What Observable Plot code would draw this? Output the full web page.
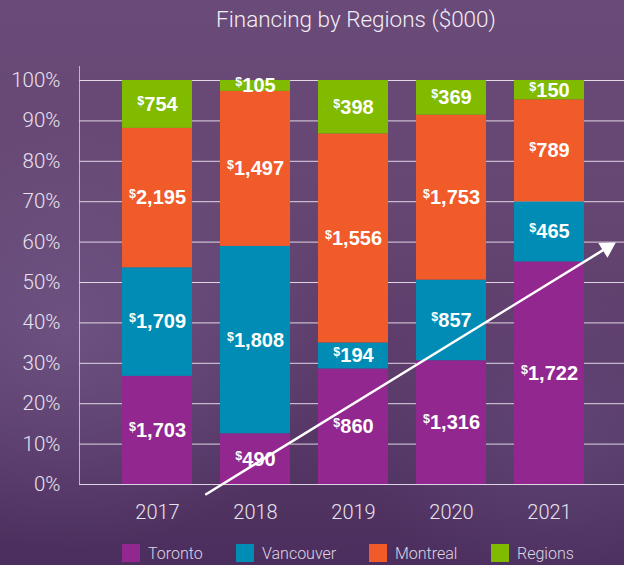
<!DOCTYPE html>
<html><head><meta charset="utf-8">
<script src="https://cdn.jsdelivr.net/npm/d3@7"></script>
<script src="https://cdn.jsdelivr.net/npm/@observablehq/plot@0.6"></script>
<style>
html,body{margin:0;padding:0;}
body{width:624px;height:565px;overflow:hidden;position:relative;
background:
 radial-gradient(ellipse 260px 220px at 70px 330px, rgba(125,105,155,0.45), rgba(0,0,0,0)),
 radial-gradient(ellipse 200px 160px at 560px 440px, rgba(110,90,140,0.35), rgba(0,0,0,0)),
 linear-gradient(180deg,#6a4a78 0%,#664672 35%,#5a3a69 70%,#4b2e5d 100%);
font-family: Roboto, "Liberation Sans", sans-serif;}
#title{height:45px;box-sizing:border-box;padding-top:6px;padding-left:88px;text-align:center;color:#f2eef5;font-size:22.5px;font-weight:300;line-height:26px;}
#chart svg{display:block;}
#legend{position:absolute;left:122px;top:544px;display:flex;align-items:center;height:18px;color:#ddd5e3;font-size:16px;font-weight:300;}
.item{display:flex;align-items:center;}
.item:nth-child(1){width:114px;}
.item:nth-child(2){width:133px;}
.item:nth-child(3){width:122px;}
.sw{width:18px;height:18px;margin-right:8px;}
</style></head><body>
<div id="title">Financing by Regions ($000)</div>
<div id="chart"></div>
<div id="legend"></div>
<script>
const years = ["2017","2018","2019","2020","2021"];
const regions = ["Toronto","Vancouver","Montreal","Regions"];
const colors = ["#92278f","#008cb4","#f15a29","#80bb00"];
const toronto = [1703,490,860,1316,1722];
const vancouver = [1709,1808,194,857,465];
const montreal = [2195,1497,1556,1753,789];
const regionsOther = [754,105,398,369,150];
const yTicks = [0,0.1,0.2,0.3,0.4,0.5,0.6,0.7,0.8,0.9,1];
const arrowData = [{x1:"2017", y1:-0.024, x2:"2021", y2:0.5725}];
const arrowHead = [{x:"2021", y:0.586}];

const series = [toronto, vancouver, montreal, regionsOther];
const table = [];
years.forEach((y,i) => regions.forEach((r,j) => table.push({year:y, region:r, value:series[j][i]})));

const fmt = d3.format(",");
const plot = Plot.plot({
  width:624, height:490, marginTop:35, marginBottom:51, marginLeft:79, marginRight:0,
  style:{background:"transparent", color:"#e8e2ee", fontFamily:"Roboto, 'Liberation Sans', sans-serif", fontSize:"20px", fontWeight:300, overflow:"visible"},
  x:{domain:years, paddingInner:0.281, paddingOuter:0.407, align:0.524, label:null},
  y:{domain:[0,1], label:null},
  color:{domain:regions, range:colors},
  marks:[
    Plot.ruleY(yTicks, {stroke:"#f0eaf4", strokeOpacity:0.88}),
    Plot.frame({anchor:"left", insetTop:-14, stroke:"#d8d0de", strokeOpacity:0.8}),
    Plot.barY(table, Plot.stackY({x:"year", y:"value", z:"region", fill:"region", offset:"normalize"})),
    Plot.text(table, Plot.stackY({x:"year", y:"value", z:"region", offset:"normalize",
      text:d => "$" + fmt(d.value), fill:"white", fontWeight:"bold", fontSize:20,
      fontFamily:"'Liberation Sans', Arial, sans-serif", className:"lbl"})),
    Plot.arrow(arrowData, {x1:"x1", y1:"y1", x2:"x2", y2:"y2", dx:48.6, insetEnd:-12, stroke:"white", strokeWidth:2.5, headLength:0}),
    Plot.dot(arrowHead, {x:"x", y:"y", dx:57.7, symbol:"triangle", r:6.5, rotate:58.5, fill:"white", stroke:"none"}),
    Plot.axisY({ticks:yTicks, tickFormat:d => Math.round(d*100) + "%", tickSize:0, tickPadding:19, fontSize:20.5, label:null}),
    Plot.axisX({tickSize:0, tickPadding:20, fontSize:20, label:null})
  ]
});
document.getElementById("chart").append(plot);

d3.select(plot).selectAll("g.lbl text").each(function(){
  const t = this.textContent;
  const s = d3.select(this);
  s.text(null);
  s.append("tspan").attr("font-size", 12.5).attr("dy", -6).text(t.slice(0,1));
  s.append("tspan").attr("dy", 6).text(t.slice(1));
});

const legend = d3.select("#legend");
regions.forEach((r,i) => {
  const it = legend.append("div").attr("class","item");
  it.append("div").attr("class","sw").style("background", colors[i]);
  it.append("span").text(r);
});
</script>
</body></html>
